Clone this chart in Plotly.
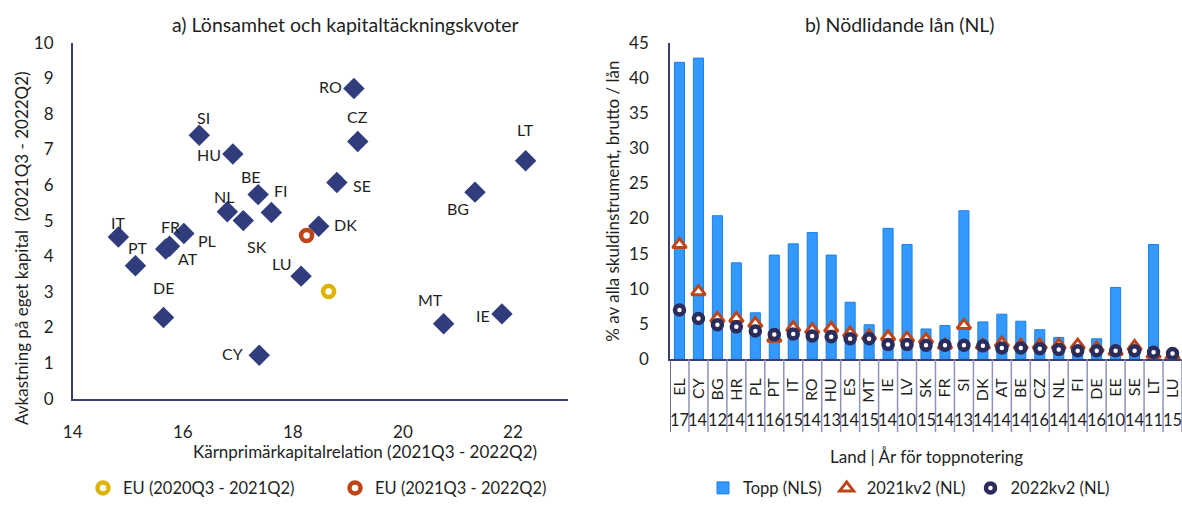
import plotly.graph_objects as go

# ---------------- Panel a data ----------------
countries_a = ["RO", "SI", "HU", "CZ", "LT", "BE", "SE", "BG", "FI", "NL", "SK",
               "DK", "IT", "PL", "FR", "AT", "PT", "DE", "LU", "MT", "IE", "CY"]
cet1 = [19.11, 16.30, 16.91, 19.18, 22.23, 17.37, 18.80, 21.31, 17.61, 16.81, 17.10,
        18.47, 14.83, 16.02, 15.76, 15.69, 15.14, 15.65, 18.15, 20.74, 21.80, 17.39]
roe = [8.71, 7.40, 6.87, 7.22, 6.68, 5.73, 6.07, 5.80, 5.23, 5.25, 5.00,
       4.84, 4.54, 4.64, 4.28, 4.20, 3.73, 2.28, 3.44, 2.10, 2.38, 1.22]
eu_names = ["EU (2020Q3 - 2021Q2)", "EU (2021Q3 - 2022Q2)"]
eu_cet1 = [18.65, 18.25]
eu_roe = [3.01, 4.58]

# ---------------- Panel b data ----------------
countries_b = ["EL", "CY", "BG", "HR", "PL", "PT", "IT", "RO", "HU", "ES", "MT", "IE", "LV", "SK",
               "FR", "SI", "DK", "AT", "BE", "CZ", "NL", "FI", "DE", "EE", "SE", "LT", "LU"]
peak_year = ["17", "14", "12", "14", "11", "16", "15", "14", "13", "14", "15", "14", "10", "15",
             "14", "13", "14", "14", "14", "16", "14", "14", "16", "10", "14", "11", "15"]
peak_nls = [42.2, 42.8, 20.4, 13.7, 6.6, 14.8, 16.4, 18.0, 14.8, 8.1, 4.9, 18.6, 16.3, 4.3,
            4.8, 21.1, 5.3, 6.4, 5.4, 4.2, 3.1, 1.6, 2.9, 10.2, 1.5, 16.3, 0.9]
nl_2021 = [16.3, 9.6, 5.8, 5.8, 5.1, 3.0, 4.5, 4.2, 4.4, 3.7, 3.3, 3.2, 3.0, 2.8,
           2.0, 4.8, 2.0, 2.3, 2.0, 2.0, 2.0, 2.0, 1.6, 1.1, 1.8, 0.7, 0.5]
nl_2022 = [7.0, 5.8, 4.9, 4.6, 4.0, 3.5, 3.6, 3.3, 3.2, 2.9, 2.9, 2.1, 2.1, 2.0,
           2.0, 2.0, 1.9, 1.6, 1.6, 1.5, 1.4, 1.2, 1.2, 1.2, 1.2, 1.0, 0.8]
series_names_b = ["Topp (NLS)", "2021kv2 (NL)", "2022kv2 (NL)"]

# ---------------- styling ----------------
FONT = "Lato"
TXT = "#1f1f1f"
NAVY = "#313C7C"
DARKNAVY = "#2A2C5C"
ORANGE = "#BE4517"
GOLD = "#DDB300"
BLUE = "#3399FF"
AXIS = "#3A3F72"
W, H = 1182, 506


def px_x(p):
    """page pixel x -> paper fraction"""
    return p / W


def px_y(p):
    """page pixel y (from top) -> paper fraction"""
    return 1 - p / H


# label offsets (pixels: dx right, dy down) for panel a
label_off = {
    "RO": (-23, -2), "SI": (4, -18), "HU": (-24, 0), "CZ": (0, -25), "LT": (0, -31),
    "BE": (-7, -18), "FI": (10, -22), "NL": (-3, -15), "SE": (25, 3), "BG": (-17, 16),
    "DK": (27, -2), "IT": (0, -14), "FR": (1, -20), "PL": (23, 7), "AT": (22, 9),
    "PT": (3, -18), "SK": (14, 26), "LU": (-19, -13), "DE": (0, -30), "MT": (-13, -24),
    "IE": (-19, 2), "CY": (-27, -2),
}

fig = go.Figure()

# Panel a: countries
fig.add_trace(go.Scatter(
    x=cet1, y=roe, mode="markers", showlegend=False, hoverinfo="text", text=countries_a,
    marker=dict(symbol="diamond", size=16.5, color=NAVY, line=dict(width=0)),
    xaxis="x", yaxis="y"))
# Panel a: EU points
for name, xv, yv, col in zip(eu_names, eu_cet1, eu_roe, [GOLD, ORANGE]):
    fig.add_trace(go.Scatter(
        x=[xv], y=[yv], mode="markers", name=name, legend="legend",
        marker=dict(symbol="circle", size=11, color="white", line=dict(width=4.5, color=col)),
        xaxis="x", yaxis="y"))

# Panel b
fig.add_trace(go.Bar(
    x=countries_b, y=peak_nls, name=series_names_b[0], legend="legend2",
    marker=dict(color=BLUE, line=dict(color="#1C7FE6", width=1)),
    xaxis="x2", yaxis="y2"))
fig.add_trace(go.Scatter(
    x=countries_b, y=nl_2021, mode="markers", name=series_names_b[1], legend="legend2",
    marker=dict(symbol="triangle-up", size=12, color="white", line=dict(width=3, color=ORANGE)),
    xaxis="x2", yaxis="y2"))
fig.add_trace(go.Scatter(
    x=countries_b, y=nl_2022, mode="markers", name=series_names_b[2], legend="legend2",
    marker=dict(symbol="circle", size=9, color="white", line=dict(width=4.5, color=DARKNAVY)),
    xaxis="x2", yaxis="y2"))

annotations = []
for c, xv, yv in zip(countries_a, cet1, roe):
    dx, dy = label_off[c]
    annotations.append(dict(x=xv, y=yv, xref="x", yref="y", text=c, showarrow=False,
                            xanchor="center", yanchor="middle",
                            xshift=dx, yshift=-dy, font=dict(size=16, color=TXT)))


def paper_text(x, y, text, size, angle=0):
    return dict(x=px_x(x), y=px_y(y), xref="paper", yref="paper", showarrow=False,
                xanchor="center", yanchor="middle", textangle=angle,
                text=text, font=dict(size=size, color=TXT))


annotations += [
    paper_text(345, 25, "a) Lönsamhet och kapitaltäckningskvoter", 19.5),
    paper_text(900, 25, "b) Nödlidande lån (NL)", 19.5),
    paper_text(365, 459, "Kärnprimärkapitalrelation (2021Q3 - 2022Q2)", 17),
    paper_text(21, 252, "Avkastning på eget kapital  (2021Q3 - 2022Q2)", 17, -90),
    paper_text(926, 464, "Land | År för toppnotering", 17),
    paper_text(613, 205, "% av alla skuldinstrument, brutto / lån", 17, -90),
]

# year labels (outer category level)
for c, yr in zip(countries_b, peak_year):
    annotations.append(dict(x=c, y=px_y(427), xref="x2", yref="paper", text=yr, showarrow=False,
                            xanchor="center", yanchor="middle",
                            font=dict(size=16.5, color=TXT)))

# dividers for the two-level category axis
shapes = []
for i in range(len(countries_b) + 1):
    shapes.append(dict(type="line", xref="x2", yref="paper", x0=i - 0.5, x1=i - 0.5,
                       y0=px_y(365), y1=px_y(439),
                       line=dict(color="#8E92BC" if i else AXIS, width=1.5)))

fig.update_layout(
    width=W, height=H,
    margin=dict(l=0, r=0, t=0, b=0),
    paper_bgcolor="white", plot_bgcolor="white",
    font=dict(family=FONT, size=16, color=TXT),
    bargap=0.47,
    xaxis=dict(domain=[px_x(72.7), px_x(568)], range=[14, 23], dtick=2, tick0=14,
               showgrid=False, zeroline=False, showline=True, linecolor=AXIS, linewidth=1.5,
               ticks="", ticklabelstandoff=17, automargin=False,
               tickfont=dict(size=17), anchor="y"),
    yaxis=dict(domain=[px_y(405), px_y(43.3)], range=[0, 10], dtick=1,
               showgrid=False, zeroline=False, showline=True, linecolor=AXIS, linewidth=1.5,
               ticks="", ticklabelstandoff=14, automargin=False,
               tickfont=dict(size=17), anchor="x"),
    xaxis2=dict(domain=[px_x(670), 1.0], type="category", range=[-0.5, len(countries_b) - 0.5],
                tickmode="array", tickvals=countries_b, ticktext=countries_b,
                showgrid=False, zeroline=False, showline=True, linecolor=AXIS, linewidth=1.5,
                ticks="", tickangle=-90, ticklabelstandoff=11, automargin=False,
                tickfont=dict(size=16), anchor="y2"),
    yaxis2=dict(domain=[px_y(365), px_y(43.3)], range=[0, 45], dtick=5,
                showgrid=False, zeroline=False, showline=True, linecolor=AXIS, linewidth=1.5,
                ticks="", ticklabelstandoff=16, automargin=False,
                tickfont=dict(size=17), anchor="x2"),
    legend=dict(orientation="h", x=px_x(83), y=px_y(496), xanchor="left", yanchor="middle",
                entrywidth=207, entrywidthmode="pixels", font=dict(size=16.5),
                bgcolor="rgba(0,0,0,0)", itemclick=False),
    legend2=dict(orientation="h", x=px_x(703), y=px_y(496), xanchor="left", yanchor="middle",
                 font=dict(size=16.5), bgcolor="rgba(0,0,0,0)", itemclick=False,
                 traceorder="normal"),
    annotations=annotations,
    shapes=shapes,
    showlegend=True,
)

# make the page exactly window-sized: no default body margin, no stray line box, no scrolling
fig.write_html(
    "out.html",
    config={"displayModeBar": False},
    post_script=(
        "var b=document.body.style, h=document.documentElement.style;"
        "b.margin='0'; b.fontSize='0'; b.lineHeight='0'; b.overflow='hidden'; b.height='506px';"
        "h.overflow='hidden'; h.height='506px';"
    ),
)
